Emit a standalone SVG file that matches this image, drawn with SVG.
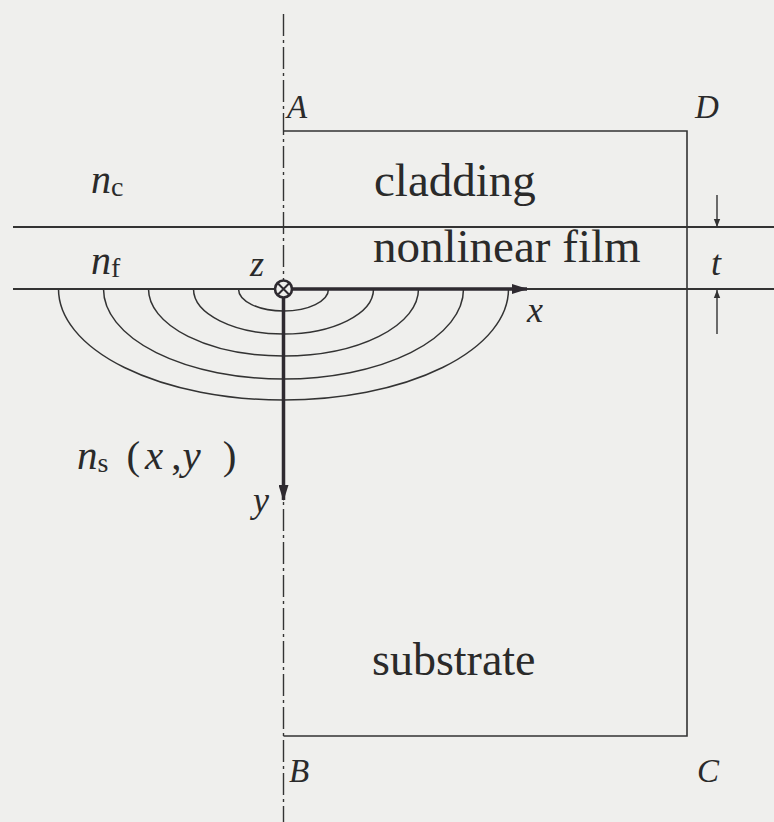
<svg xmlns="http://www.w3.org/2000/svg" width="774" height="822" viewBox="0 0 774 822">
<style>
.line{stroke:#333;fill:none}
.axis{stroke:#2e2a30;stroke-width:3.5;fill:none}
.it{font-family:"Liberation Serif",serif;font-style:italic;fill:#2a2a2a}
.rm{font-family:"Liberation Serif",serif;font-style:normal;fill:#2a2a2a}
</style>
<defs>
<marker id="axhead" viewBox="0 0 16 10" refX="15" refY="5" markerWidth="16" markerHeight="10" markerUnits="userSpaceOnUse" orient="auto">
<path d="M0,0 L16,5 L0,10 Z" fill="#2e2a30"/>
</marker>
<marker id="dimhead" viewBox="0 0 10 10" refX="10" refY="5" markerWidth="8" markerHeight="10" markerUnits="userSpaceOnUse" orient="auto">
<path d="M0,1 L10,5 L0,9 Z" fill="#333"/>
</marker>
</defs>
<rect width="774" height="822" fill="#efefed"/>

<g id="centerline">
<line class="line" x1="283.5" y1="14" x2="283.5" y2="822" stroke-width="1.4" stroke-dasharray="22 4 3 4"/>
</g>

<g id="layers">
<path class="line" stroke-width="1.6" d="M283.5,131 H687 V736 H283.5"/>
<line class="line" stroke-width="2" x1="13" y1="227" x2="774" y2="227"/>
<line class="line" stroke-width="2" x1="13" y1="289" x2="774" y2="289"/>
</g>

<g id="contours" class="line" stroke-width="1.5">
<path d="M238.5,289 A45,22 0 0 0 328.5,289"/>
<path d="M193.5,289 A90,45 0 0 0 373.5,289"/>
<path d="M148.5,289 A135,67 0 0 0 418.5,289"/>
<path d="M103.5,289 A180,90 0 0 0 463.5,289"/>
<path d="M58.5,289 A225,111 0 0 0 508.5,289"/>
</g>

<g id="connectors">
<line class="axis" x1="292" y1="289" x2="527" y2="289" marker-end="url(#axhead)"/>
<line class="axis" x1="283.5" y1="298" x2="283.5" y2="500" marker-end="url(#axhead)"/>
<line class="line" stroke-width="1.4" x1="717" y1="195" x2="717" y2="227" marker-end="url(#dimhead)"/>
<line class="line" stroke-width="1.4" x1="717" y1="334" x2="717" y2="290" marker-end="url(#dimhead)"/>
</g>

<g id="origin">
<circle cx="283.5" cy="289" r="8.5" fill="#efefed" stroke="#2e2a30" stroke-width="2.6"/>
<path d="M278,283.5 L289,294.5 M289,283.5 L278,294.5" stroke="#2e2a30" stroke-width="2"/>
</g>

<g id="labels">
<text class="it" x="287" y="118" font-size="33">A</text>
<text class="it" x="695" y="118" font-size="33">D</text>
<text class="it" x="289" y="782" font-size="33">B</text>
<text class="it" x="697" y="782" font-size="33">C</text>
<text class="it" x="91" y="193" font-size="40">n<tspan class="rm" font-size="28" dy="3">c</tspan></text>
<text class="it" x="91" y="274" font-size="40">n<tspan class="rm" font-size="28" dy="3">f</tspan></text>
<text class="it" x="250" y="276" font-size="36">z</text>
<text class="rm" x="374" y="196" font-size="47">cladding</text>
<text class="rm" x="373" y="262" font-size="47">nonlinear film</text>
<text class="rm" x="372" y="675" font-size="46">substrate</text>
<text class="it" x="711" y="275" font-size="36">t</text>
<text class="it" x="527" y="322" font-size="36">x</text>
<text class="it" x="253" y="512" font-size="36">y</text>
<text class="it" x="77" y="469" font-size="41">n<tspan class="rm" font-size="28" dy="3">s</tspan><tspan class="rm" dy="-3" dx="18">(</tspan><tspan dx="5">x</tspan><tspan class="rm" dx="8">,</tspan><tspan dx="1">y</tspan><tspan class="rm" dx="22">)</tspan></text>
</g>
</svg>
